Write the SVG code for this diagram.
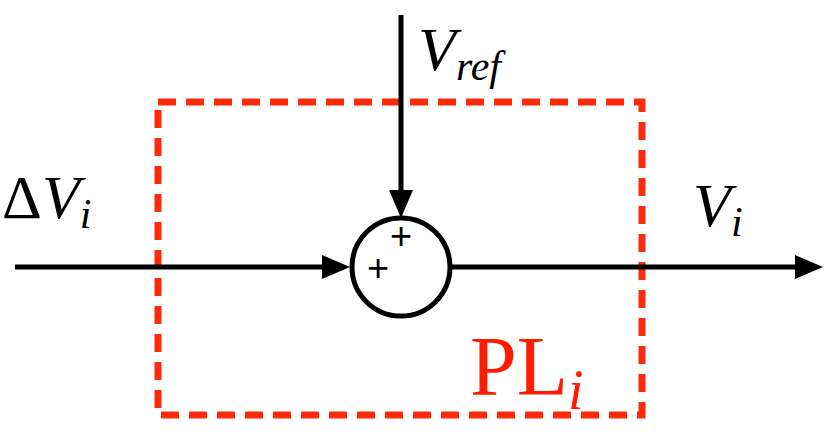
<svg xmlns="http://www.w3.org/2000/svg" width="830" height="439" viewBox="0 0 830 439">
<style>
.ln{stroke:#000;stroke-width:5;fill:none}
.t{font-family:"Liberation Serif",serif;font-size:62px;fill:#000}
.s{font-size:42px}
.p{font-family:"Liberation Sans",sans-serif;font-size:38px}
</style>
<g id="box"><rect x="158" y="102" width="484" height="313" fill="none" stroke="#ff2a0a" stroke-width="7" stroke-dasharray="18,10"/></g>
<g id="connectors">
<line class="ln" x1="15" y1="267" x2="330" y2="267"/>
<path d="M322,255L350,267L322,279z" fill="#000"/>
<line class="ln" x1="452" y1="267" x2="800" y2="267"/>
<path d="M795,255L823,267L795,279z" fill="#000"/>
<line class="ln" x1="401" y1="15" x2="401" y2="195"/>
<path d="M389,190L401,218L413,190z" fill="#000"/>
</g>
<g id="sum"><circle cx="401" cy="267" r="49" fill="#fff" stroke="#000" stroke-width="5"/>
<text class="p" x="401" y="249" text-anchor="middle">+</text>
<text class="p" x="378" y="281" text-anchor="middle">+</text></g>
<g id="labels">
<text class="t" x="2" y="218">Δ<tspan font-style="italic">V</tspan><tspan font-style="italic" class="s" dy="10">i</tspan></text>
<text class="t" x="418" y="70" font-style="italic">V<tspan class="s" dy="10">ref</tspan></text>
<text class="t" x="693" y="226" font-style="italic">V<tspan class="s" dy="10">i</tspan></text>
<text class="t" x="470" y="395" style="fill:#ff1a00;font-size:84px">PL<tspan font-style="italic" style="font-size:56px" dy="14">i</tspan></text>
</g>
</svg>
